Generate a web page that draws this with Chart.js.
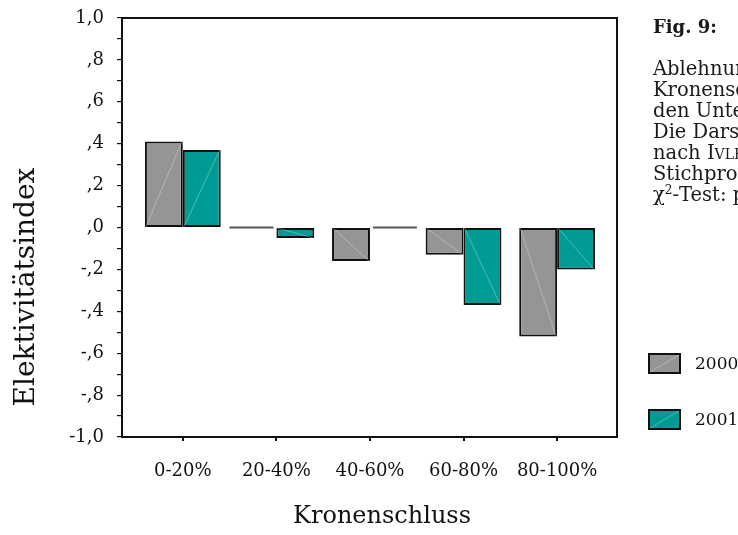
<!DOCTYPE html>
<html>
<head>
<meta charset="utf-8">
<script src="https://cdn.jsdelivr.net/npm/chart.js@4.4.1/dist/chart.umd.min.js"></script>
<style>
  html, body { margin: 0; padding: 0; background: #fff; overflow: hidden; }
  #wrap { position: relative; width: 738px; height: 535px; }
  .cap { position: absolute; left: 653px; font-family: "DejaVu Serif", serif; font-size: 19.5px;
         line-height: 21px; color: #1a1a1a; white-space: nowrap; }
  .cap b { font-weight: bold; font-size: 18px; }
  .sc { font-variant: small-caps; }
</style>
</head>
<body>
<div id="wrap">
  <canvas id="chart" width="738" height="535"></canvas>
  <div class="cap" style="top:16px"><b>Fig. 9:</b></div>
  <div class="cap" style="top:58px">
    Ablehnung der Kronenschlussklassen in<br>
    Kronenschlussklassen durch die Tiere in<br>
    den Untersuchungsjahren 2000 und 2001.<br>
    Die Darstellung erfolgt als Elektivitätsindex<br>
    nach <span class="sc">Ivlev</span> (1961).<br>
    Stichprobenumfang siehe Text.<br>
    χ<sup style="font-size:12px;line-height:0">2</sup>-Test: p &lt; 0,05
  </div>
</div>
<script>
// Kronenschluss classes and the index per year
const categories = ['0-20%', '20-40%', '40-60%', '60-80%', '80-100%'];
const years = ['2000', '2001'];
const values2000 = [0.41, 0, -0.16, -0.13, -0.52];
const values2001 = [0.37, -0.05, 0, -0.37, -0.20];
const yTickLabels = ['-1,0', '-,8', '-,6', '-,4', '-,2', ',0', ',2', ',4', ',6', ',8', '1,0'];

const serif = 'DejaVu Serif';
const gray = '#969494';
const teal = '#009b94';

// bars with a light diagonal, zero values as a flat line, frame, legend, axis titles
const decor = {
    id: 'decor',
    afterDatasetsDraw(chart) {
        const ctx = chart.ctx;
        chart.data.datasets.forEach((ds, di) => {
            chart.getDatasetMeta(di).data.forEach((el, i) => {
                const left = el.x - el.width / 2;
                const right = el.x + el.width / 2;
                ctx.save();
                if (ds.data[i].y === 0) {
                    // SPSS draws an empty bar as a short flat line, nudged outward
                    const shift = di === 0 ? -6 : 6;
                    ctx.strokeStyle = '#555';
                    ctx.lineWidth = 2;
                    ctx.beginPath();
                    ctx.moveTo(left - 3 + shift, el.base);
                    ctx.lineTo(right + 3 + shift, el.base);
                    ctx.stroke();
                } else {
                    ctx.strokeStyle = 'rgba(255,255,255,0.3)';
                    ctx.lineWidth = 1;
                    ctx.beginPath();
                    ctx.moveTo(left + 1, el.base);
                    ctx.lineTo(right - 1, el.y);
                    ctx.stroke();
                }
                ctx.restore();
            });
        });
    },
    afterDraw(chart) {
        const ctx = chart.ctx;
        const a = chart.chartArea;
        ctx.save();
        ctx.strokeStyle = '#111';
        ctx.lineWidth = 2;
        ctx.strokeRect(a.left, a.top, a.right - a.left, a.bottom - a.top);

        // legend
        const boxY = [354, 410];
        chart.data.datasets.forEach((ds, di) => {
            const x = 649, y = boxY[di], w = 31, h = 19;
            ctx.fillStyle = ds.backgroundColor;
            ctx.fillRect(x, y, w, h);
            ctx.strokeStyle = 'rgba(255,255,255,0.3)';
            ctx.lineWidth = 1;
            ctx.beginPath();
            ctx.moveTo(x + 1, y + h - 1);
            ctx.lineTo(x + w - 1, y + 1);
            ctx.stroke();
            ctx.strokeStyle = '#111';
            ctx.lineWidth = 2;
            ctx.strokeRect(x, y, w, h);
            ctx.fillStyle = '#111';
            ctx.font = '17px "' + serif + '"';
            ctx.textAlign = 'left';
            ctx.textBaseline = 'middle';
            ctx.fillText(ds.label, 695, y + h / 2 + 1);
        });

        // axis titles
        ctx.fillStyle = '#111';
        ctx.textAlign = 'center';
        ctx.textBaseline = 'alphabetic';
        ctx.font = '24px "' + serif + '"';
        ctx.fillText('Kronenschluss', 382, 523);
        ctx.font = '28px "' + serif + '"';
        ctx.translate(34, 287);
        ctx.rotate(-Math.PI / 2);
        ctx.fillText('Elektivitätsindex', 0, 0);
        ctx.restore();
    }
};

new Chart(document.getElementById('chart'), {
    type: 'bar',
    data: {
        datasets: [
            { label: years[0], data: values2000.map((v, i) => ({ x: i + 1, y: v })),
              backgroundColor: gray, borderColor: '#111', borderWidth: 2, borderSkipped: false },
            { label: years[1], data: values2001.map((v, i) => ({ x: i + 1, y: v })),
              backgroundColor: teal, borderColor: '#111', borderWidth: 2, borderSkipped: false }
        ]
    },
    options: {
        responsive: false,
        animation: false,
        layout: { padding: { top: 18, right: 121, left: 0, bottom: 0 } },
        datasets: { bar: { categoryPercentage: 0.81, barPercentage: 1.0 } },
        plugins: { legend: { display: false }, tooltip: { enabled: false } },
        scales: {
            x: {
                type: 'linear',
                bounds: 'data',
                min: 0.35,
                max: 5.64,
                offset: false,
                grid: { display: true, offset: false, drawOnChartArea: false, drawTicks: true, tickLength: 4, color: '#111', lineWidth: 2 },
                border: { display: false },
                ticks: {
                    includeBounds: false, autoSkip: false, maxRotation: 0, padding: 20,
                    color: '#111', font: { family: serif, size: 18 },
                    callback: v => categories[v - 1] ?? ''
                },
                afterBuildTicks: s => { s.ticks = categories.map((c, i) => ({ value: i + 1 })); },
                afterFit: s => { s.height = 98; s.paddingLeft = 0; s.paddingRight = 0; }
            },
            y: {
                min: -1,
                max: 1,
                grid: { display: true, drawOnChartArea: false, drawTicks: true, tickLength: 5, color: '#111', lineWidth: 1.2 },
                border: { display: false },
                ticks: {
                    stepSize: 0.1, autoSkip: false, padding: 13,
                    color: '#111', font: { family: serif, size: 18 },
                    callback: v => {
                        const k = Math.round((v + 1) * 10);
                        return k % 2 === 0 ? yTickLabels[k / 2] : '';
                    }
                },
                afterFit: s => { s.width = 122; s.paddingTop = 0; s.paddingBottom = 0; }
            }
        }
    },
    plugins: [decor]
});
</script>
</body>
</html>
